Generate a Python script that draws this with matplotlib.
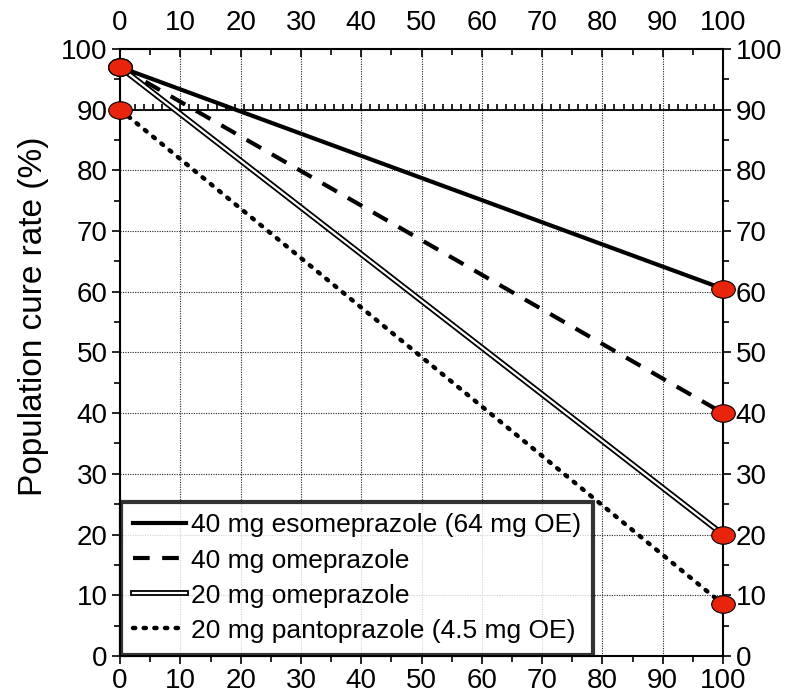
import numpy as np
import matplotlib.pyplot as plt
from matplotlib.path import Path

plt.rcParams['font.family'] = ['Liberation Sans', 'DejaVu Sans']

# Data
dose_x = [0, 100]
eso40 = [97, 60.5]
ome40 = [97, 40]
ome20 = [97, 20]
panto20 = [90, 8.5]
ref_level = 90

labels = ['40 mg esomeprazole (64 mg OE)',
          '40 mg omeprazole',
          '20 mg omeprazole',
          '20 mg pantoprazole (4.5 mg OE)']

ticks = np.arange(0, 101, 10)

# ellipse marker, a bit wider than tall
circ = Path.unit_circle()
ellipse = Path(circ.vertices * [1.35, 1.0], circ.codes)

fig = plt.figure(figsize=(7.85, 7.0), dpi=100)
ax = fig.add_axes([0.153, 0.063, 0.768, 0.867])

ax.set_xlim(0, 100)
ax.set_ylim(0, 100)
ax.set_xticks(ticks)
ax.set_yticks(ticks)
ax.set_xticks(np.arange(5, 100, 10), minor=True)
ax.set_yticks(np.arange(5, 100, 10), minor=True)
ax.grid(True, which='major', linestyle=(0, (1, 1.2)), color='#222222', linewidth=0.8)

# reference line at 90 with small tick pattern
ax.axhline(ref_level, color='black', linewidth=1.3, zorder=2)
ax.plot(np.arange(1, 100, 1.5), [ref_level + 0.5] * len(np.arange(1, 100, 1.5)),
        linestyle='none', marker='|', markersize=5, color='black',
        markeredgewidth=1.2, zorder=2)

l1, = ax.plot(dose_x, eso40, color='black', linewidth=3, zorder=3)
l2, = ax.plot(dose_x, ome40, color='black', linewidth=3, linestyle=(0, (4, 3)), zorder=3)
l3a, = ax.plot(dose_x, ome20, color='black', linewidth=4.2, zorder=3)
l3b, = ax.plot(dose_x, ome20, color='white', linewidth=1.6, zorder=3)
l4, = ax.plot(dose_x, panto20, color='black', linewidth=3.2, linestyle=(0, (0.5, 1.9)),
              dash_capstyle='round', zorder=3)

for series in [eso40, ome40, ome20, panto20]:
    ax.plot(dose_x, series, linestyle='none', marker=ellipse, markersize=17,
            markerfacecolor='#e8250c', markeredgecolor='black', markeredgewidth=0.8,
            clip_on=False, zorder=5)

ax.set_ylabel('Population cure rate (%)', fontsize=24)
ax.yaxis.set_label_coords(-0.118, 0.56)

ax.tick_params(axis='both', which='both', labelsize=20, width=1.2, pad=3)
ax.tick_params(axis='x', which='both', top=True, labeltop=True, direction='out')
ax.tick_params(axis='y', which='both', right=True, labelright=True, direction='out')
ax.tick_params(which='major', length=6)
ax.tick_params(which='minor', length=4)
for t in ax.xaxis.get_major_ticks() + ax.xaxis.get_minor_ticks():
    t.tick2line.set_marker(3)  # top ticks point into the plot
for spine in ax.spines.values():
    spine.set_linewidth(1.5)

leg = ax.legend([l1, l2, (l3a, l3b), l4], labels, loc='lower left',
                bbox_to_anchor=(0, 0), fontsize=19, frameon=True, fancybox=False,
                handlelength=2.0, handletextpad=0.2, borderaxespad=0.05,
                labelspacing=0.42, borderpad=0.45)
leg.get_frame().set_edgecolor('black')
leg.get_frame().set_linewidth(3)
leg.set_zorder(6)

plt.savefig('out.png', dpi=100)
